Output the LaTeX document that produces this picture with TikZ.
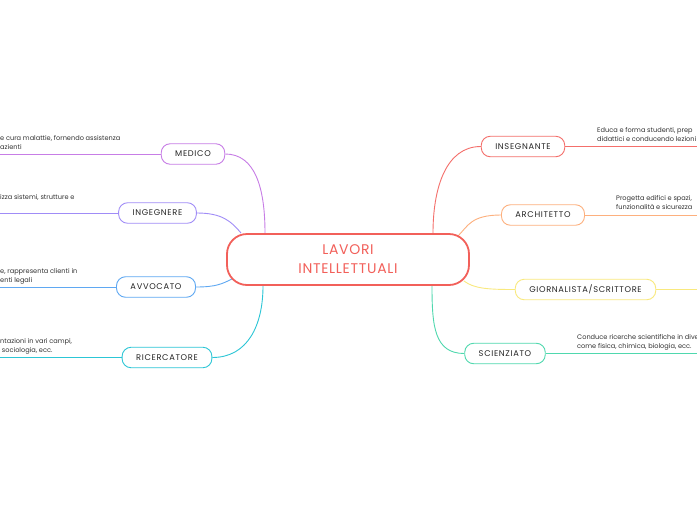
\documentclass[tikz,border=0pt]{standalone}
\usepackage{fontspec}
\usetikzlibrary{backgrounds}
\setmainfont{Poppins}
\newfontfamily\boxfont[LetterSpace=8]{Poppins}
\newfontfamily\centrefont[LetterSpace=5]{Poppins}
\definecolor{cmed}{HTML}{C77DE6}
\definecolor{cing}{HTML}{A08CF7}
\definecolor{cavv}{HTML}{5FA8F2}
\definecolor{cric}{HTML}{2CC6D6}
\definecolor{cins}{HTML}{F46F6B}
\definecolor{carc}{HTML}{FDB07E}
\definecolor{cgio}{HTML}{F9E97E}
\definecolor{csci}{HTML}{4FD8AE}
\definecolor{ccen}{HTML}{F2605A}
\begin{document}
\begin{tikzpicture}[x=1pt,y=-1pt,
  topic/.style={draw=#1, line width=0.9pt, rounded corners=9pt, fill=white,
    minimum height=20.5pt, inner xsep=14pt, inner ysep=0pt,
    font=\boxfont\fontsize{8.3}{10}\selectfont, text=black!85},
  desc/.style={font=\fontsize{6.6}{9}\selectfont, align=left, text=black!80, inner sep=0pt},
  link/.style={line width=0.9pt, draw=#1}]
\useasboundingbox (0,0) rectangle (697,520);

\node[draw=ccen, line width=1.8pt, rounded corners=20pt, fill=white,
  minimum width=242pt, minimum height=51pt, align=center, text=ccen,
  font=\centrefont\fontsize{14}{19}\selectfont] (c) at (348,259.5) {LAVORI\\INTELLETTUALI};

\node[topic=cmed] (medico) at (193,154) {MEDICO};
\node[topic=cing] (ing) at (157.5,213) {INGEGNERE};
\node[topic=cavv] (avv) at (156,287) {AVVOCATO};
\node[topic=cric] (ric) at (167,357.5) {RICERCATORE};
\node[topic=cins] (ins) at (523,146.5) {INSEGNANTE};
\node[topic=carc] (arc) at (543,215) {ARCHITETTO};
\node[topic=cgio] (gio) at (585.5,289.5) {GIORNALISTA/SCRITTORE};
\node[topic=csci] (sci) at (505,353.5) {SCIENZIATO};

\coordinate (medicoend) at (0,154);
\coordinate (ingend) at (0,213);
\coordinate (avvend) at (0,287);
\coordinate (ricend) at (0,357.5);
\coordinate (insend) at (697,146.5);
\coordinate (arcend) at (697,215);
\coordinate (gioend) at (697,289.5);
\coordinate (sciend) at (697,353.5);

\begin{scope}[on background layer]
\fill[white] (0,0) rectangle (697,520);
\draw[link=cmed] (medico.east) .. controls +(30,0) and +(0,-45) .. ([xshift=-83pt]c.north);
\draw[link=cing] (ing.east) .. controls +(25,0) and +(-10,-12) .. ([xshift=15pt]c.north west);
\draw[link=cavv] (avv.east) .. controls +(20,0) and +(-10,5) .. ([shift={(6,-7)}]c.south west);
\draw[link=cric] (ric.east) .. controls +(35,0) and +(0,40) .. ([xshift=-85pt]c.south);
\draw[link=cins] (ins.west) .. controls +(-35,0) and +(0,-45) .. ([xshift=85pt]c.north);
\draw[link=carc] (arc.west) .. controls +(-30,0) and +(10,-10) .. ([shift={(-12,3)}]c.north east);
\draw[link=cgio] (gio.west) .. controls +(-25,0) and +(10,8) .. ([shift={(-6,-5)}]c.south east);
\draw[link=csci] (sci.west) .. controls +(-30,0) and +(0,40) .. ([xshift=84pt]c.south);

\draw[link=cmed] (medico.west) -- (medicoend);
\draw[link=cing] (ing.west) -- (ingend);
\draw[link=cavv] (avv.west) -- (avvend);
\draw[link=cric] (ric.west) -- (ricend);
\draw[link=cins] (ins.east) -- (insend);
\draw[link=carc] (arc.east) -- (arcend);
\draw[link=cgio] (gio.east) -- (gioend);
\draw[link=csci] (sci.east) -- (sciend);
\end{scope}

% descriptions
\node[desc, anchor=west] (dmed) at (0,142.5) {e cura malattie, fornendo assistenza\\azienti};
\node[desc, anchor=west] (ding) at (0,197) {izza sistemi, strutture e};
\node[desc, anchor=west] (davv) at (0,276) {e, rappresenta clienti in\\enti legali};
\node[desc, anchor=west] (dric) at (0,346) {ntazioni in vari campi,\\\ sociologia, ecc.};
\node[desc, anchor=west] (dins) at (597,135) {Educa e forma studenti, prep\\didattici e conducendo lezioni};
\node[desc, anchor=west] (darc) at (616,202.5) {Progetta edifici e spazi,\\funzionalità e sicurezza};
\node[desc, anchor=west] (dsci) at (577,342) {Conduce ricerche scientifiche in dive\\come fisica, chimica, biologia, ecc.};
\end{tikzpicture}
\end{document}
